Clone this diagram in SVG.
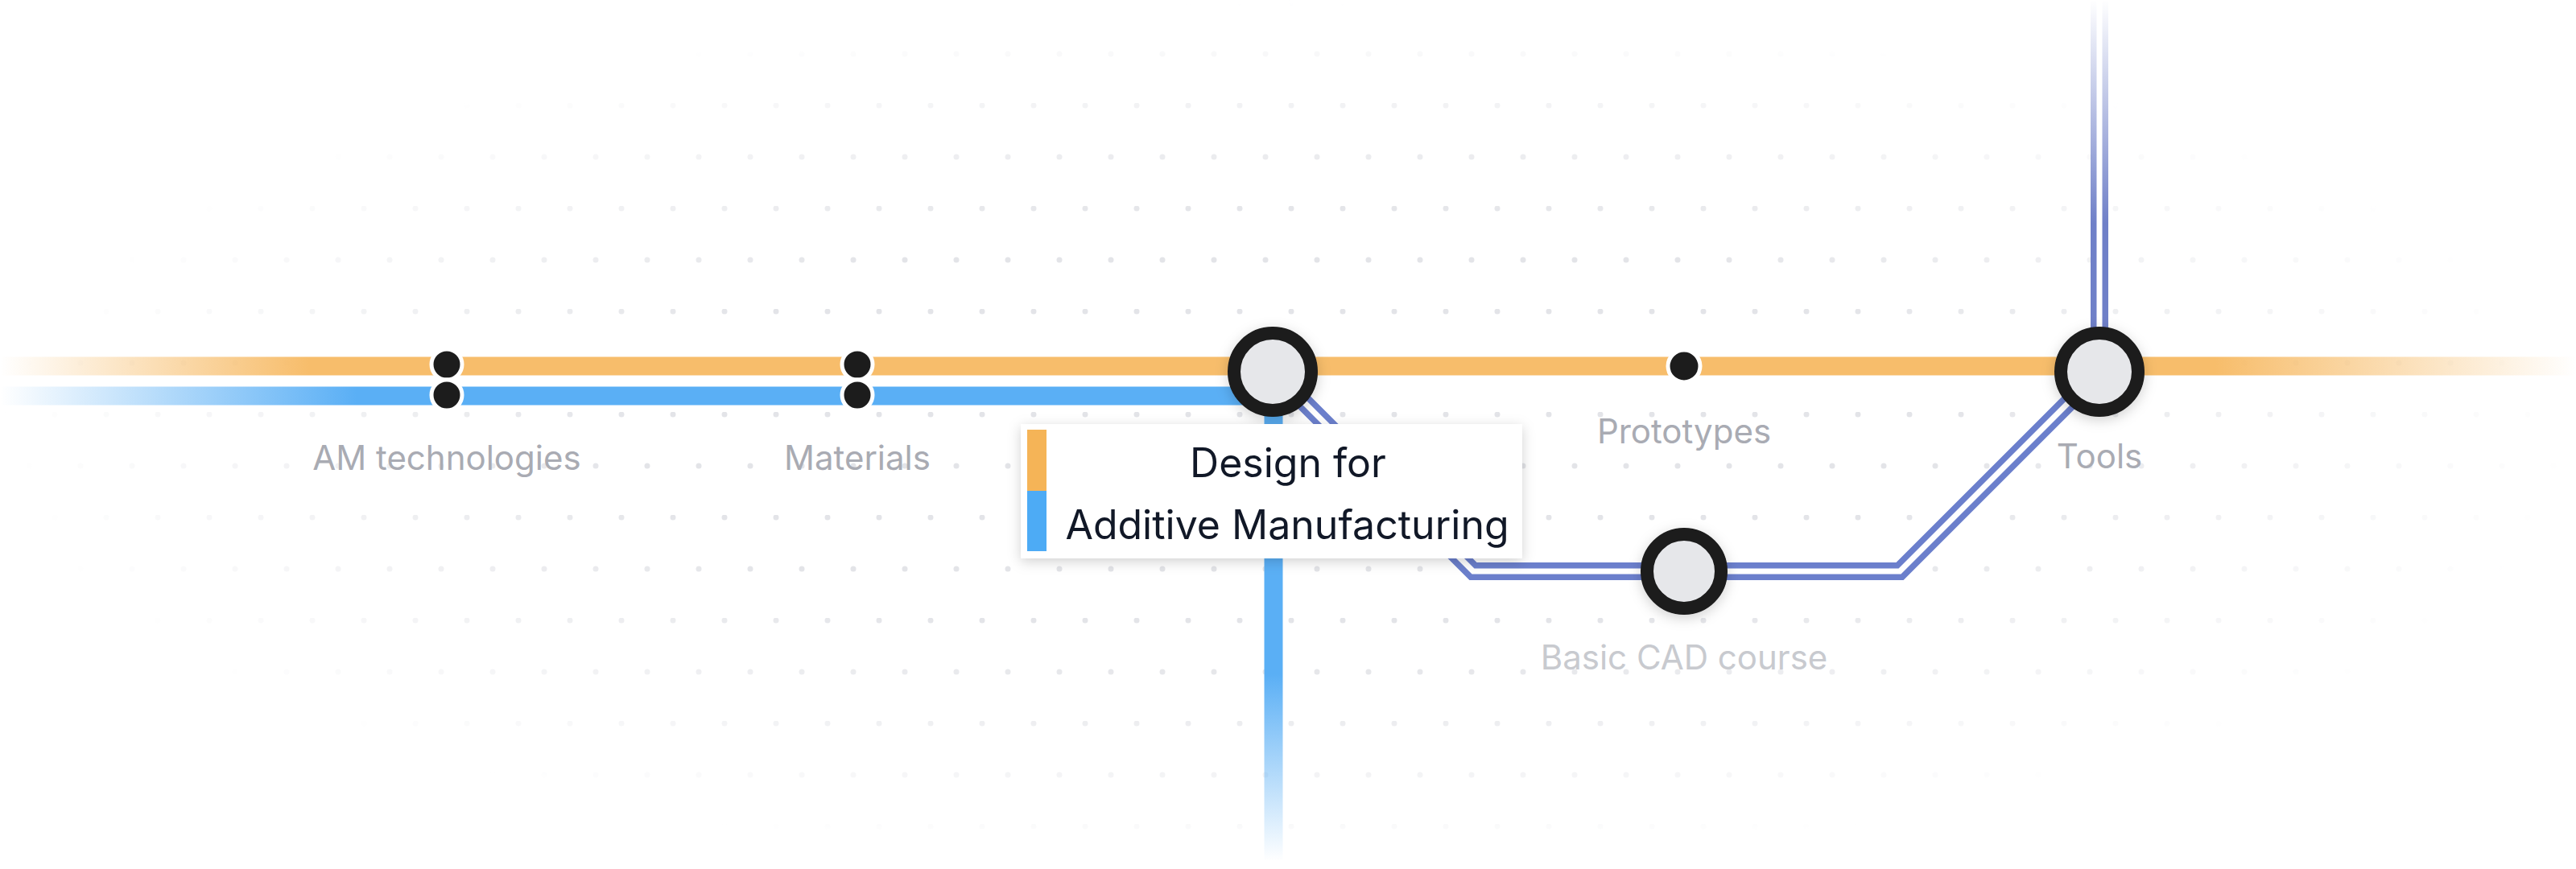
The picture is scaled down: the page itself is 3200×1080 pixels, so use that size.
<svg xmlns="http://www.w3.org/2000/svg" width="3200" height="1080" viewBox="0 0 3200 1080">
<defs>
<style>
.lbl{font-family:Inter,"Liberation Sans",sans-serif;font-size:42px;fill:#a9abb3;text-anchor:middle}
.big{fill:#e6e7ea;stroke:#1a1a1a;stroke-width:16}
.sm{fill:#1c1c1c;stroke:#fff;stroke-width:5}
.tt{font-family:Inter,"Liberation Sans",sans-serif;font-size:50px;fill:#111827;text-anchor:middle}
</style>
<pattern id="dots" width="64" height="128" patternUnits="userSpaceOnUse">
<circle cx="4" cy="3" r="3.5" fill="#e3e4e8"/>
<circle cx="36" cy="67" r="3.5" fill="#e3e4e8"/>
</pattern>
<radialGradient id="fadeG" cx="0.5" cy="0.5" r="0.5">
<stop offset="0.5" stop-color="#fff"/>
<stop offset="1" stop-color="#000"/>
</radialGradient>
<mask id="fade"><rect x="0" y="0" width="3200" height="1080" fill="url(#fadeG)"/></mask>
<linearGradient id="og" x1="0" y1="0" x2="3200" y2="0" gradientUnits="userSpaceOnUse">
<stop offset="0" stop-color="#f7bd6b" stop-opacity="0"/>
<stop offset="0.12" stop-color="#f7bd6b"/>
<stop offset="0.86" stop-color="#f7bd6b"/>
<stop offset="1" stop-color="#f7bd6b" stop-opacity="0"/>
</linearGradient>
<linearGradient id="bg" x1="0" y1="0" x2="1582" y2="0" gradientUnits="userSpaceOnUse">
<stop offset="0" stop-color="#5aaff5" stop-opacity="0"/>
<stop offset="0.28" stop-color="#5aaff5"/>
<stop offset="1" stop-color="#5aaff5"/>
</linearGradient>
<linearGradient id="bv" x1="0" y1="490" x2="0" y2="1070" gradientUnits="userSpaceOnUse">
<stop offset="0.6" stop-color="#5aaff5"/>
<stop offset="1" stop-color="#5aaff5" stop-opacity="0"/>
</linearGradient>
<linearGradient id="pv" x1="0" y1="0" x2="0" y2="462" gradientUnits="userSpaceOnUse">
<stop offset="0" stop-color="#6f80c8" stop-opacity="0"/>
<stop offset="0.6" stop-color="#6f80c8"/>
</linearGradient>
<filter id="sh" x="-50%" y="-50%" width="200%" height="200%">
<feDropShadow dx="0" dy="4" stdDeviation="8" flood-color="#000" flood-opacity="0.18"/>
</filter>
</defs>
<rect width="3200" height="1080" fill="#fff"/>
<rect width="3200" height="1080" fill="url(#dots)" mask="url(#fade)"/>
<g id="connectors" fill="none">
<path d="M0 455H3200" stroke="url(#og)" stroke-width="23"/>
<path d="M0 492H1582" stroke="url(#bg)" stroke-width="23"/>
<path d="M1582 492V1070" stroke="url(#bv)" stroke-width="23"/>
<path d="M2608 0V462" stroke="url(#pv)" stroke-width="22"/>
<path d="M2608 0V462" stroke="#fff" stroke-width="7"/>
<path d="M1582 462L1830 710H2360L2608 462" stroke="#6b7fcc" stroke-width="22" stroke-linejoin="miter"/>
<path d="M1582 462L1830 710H2360L2608 462" stroke="#fff" stroke-width="7" stroke-linejoin="miter"/>
</g>
<g id="am"><circle class="sm" cx="555" cy="453" r="19"/><circle class="sm" cx="555" cy="491" r="19"/><text class="lbl" x="555" y="584">AM technologies</text></g>
<g id="materials"><circle class="sm" cx="1065" cy="453" r="19"/><circle class="sm" cx="1065" cy="491" r="19"/><text class="lbl" x="1065" y="584">Materials</text></g>
<g id="prototypes"><circle class="sm" cx="2092" cy="455" r="20"/><text class="lbl" x="2092" y="551">Prototypes</text></g>
<g id="cad"><circle class="big" cx="2092" cy="710" r="46" stroke-width="14" filter="url(#sh)"/><text class="lbl" x="2092" y="832" fill="#c8cacf" style="fill:#c8cacf">Basic CAD course</text></g>
<g id="tools"><circle class="big" cx="2608" cy="462" r="48" filter="url(#sh)"/><text class="lbl" x="2608" y="582">Tools</text></g>
<g id="dfam"><circle class="big" cx="1581" cy="462" r="48" filter="url(#sh)"/>
<rect x="1268" y="527" width="623" height="167" fill="#fff" filter="url(#sh)"/>
<rect x="1276" y="534" width="24" height="76" fill="#f5b457"/>
<rect x="1276" y="610" width="24" height="75" fill="#4dabf5"/>
<text class="tt" x="1600" y="593">Design for</text>
<text class="tt" x="1599" y="670">Additive Manufacturing</text></g>
</svg>
